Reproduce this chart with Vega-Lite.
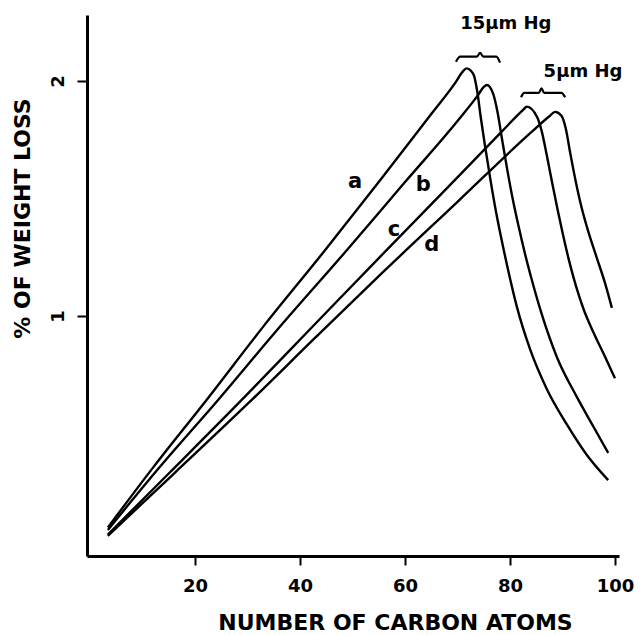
{
  "$schema": "https://vega.github.io/schema/vega-lite/v6.json",
  "width": 532,
  "height": 541,
  "autosize": {"type": "none"},
  "padding": {"left": 87, "top": 15, "right": 22, "bottom": 79},
  "background": "white",
  "config": {
    "view": {"stroke": null},
    "font": "DejaVu Sans",
    "axis": {"grid": false, "domainColor": "black", "domainWidth": 3, "tickColor": "black", "tickWidth": 2, "labelColor": "black", "titleColor": "black", "labelFont": "DejaVu Sans", "titleFont": "DejaVu Sans", "labelFontWeight": "bold", "titleFontWeight": "bold"}
  },
  "datasets": {
    "curves": [
      {"series": "a", "o": 1, "x": 3.4, "y": 0.10}, {"series": "a", "o": 2, "x": 12, "y": 0.355}, {"series": "a", "o": 3, "x": 22.2, "y": 0.643}, {"series": "a", "o": 4, "x": 33, "y": 0.955}, {"series": "a", "o": 5, "x": 44.8, "y": 1.281}, {"series": "a", "o": 6, "x": 55, "y": 1.57}, {"series": "a", "o": 7, "x": 65, "y": 1.86}, {"series": "a", "o": 8, "x": 69.5, "y": 1.99}, {"series": "a", "o": 9, "x": 71.0, "y": 2.04}, {"series": "a", "o": 10, "x": 71.7, "y": 2.054}, {"series": "a", "o": 11, "x": 73.0, "y": 2.03}, {"series": "a", "o": 12, "x": 73.8, "y": 1.95}, {"series": "a", "o": 13, "x": 74.4, "y": 1.85}, {"series": "a", "o": 14, "x": 75.2, "y": 1.73}, {"series": "a", "o": 15, "x": 76.2, "y": 1.59}, {"series": "a", "o": 16, "x": 77.2, "y": 1.46}, {"series": "a", "o": 17, "x": 78.3, "y": 1.335}, {"series": "a", "o": 18, "x": 79.5, "y": 1.21}, {"series": "a", "o": 19, "x": 81.3, "y": 1.04}, {"series": "a", "o": 20, "x": 83.8, "y": 0.86}, {"series": "a", "o": 21, "x": 87.0, "y": 0.69}, {"series": "a", "o": 22, "x": 90.8, "y": 0.54}, {"series": "a", "o": 23, "x": 94.6, "y": 0.41}, {"series": "a", "o": 24, "x": 98.7, "y": 0.302},
      {"series": "b", "o": 1, "x": 3.4, "y": 0.09}, {"series": "b", "o": 2, "x": 13, "y": 0.35}, {"series": "b", "o": 3, "x": 24.4, "y": 0.643}, {"series": "b", "o": 4, "x": 36, "y": 0.95}, {"series": "b", "o": 5, "x": 48.95, "y": 1.281}, {"series": "b", "o": 6, "x": 60, "y": 1.57}, {"series": "b", "o": 7, "x": 70, "y": 1.83}, {"series": "b", "o": 8, "x": 73.9, "y": 1.94}, {"series": "b", "o": 9, "x": 75.0, "y": 1.975}, {"series": "b", "o": 10, "x": 75.6, "y": 1.983}, {"series": "b", "o": 11, "x": 76.8, "y": 1.945}, {"series": "b", "o": 12, "x": 77.6, "y": 1.87}, {"series": "b", "o": 13, "x": 78.5, "y": 1.75}, {"series": "b", "o": 14, "x": 79.5, "y": 1.62}, {"series": "b", "o": 15, "x": 80.5, "y": 1.50}, {"series": "b", "o": 16, "x": 81.6, "y": 1.385}, {"series": "b", "o": 17, "x": 82.8, "y": 1.27}, {"series": "b", "o": 18, "x": 84.2, "y": 1.15}, {"series": "b", "o": 19, "x": 86.0, "y": 1.011}, {"series": "b", "o": 20, "x": 88.9, "y": 0.827}, {"series": "b", "o": 21, "x": 92.7, "y": 0.657}, {"series": "b", "o": 22, "x": 95.9, "y": 0.529}, {"series": "b", "o": 23, "x": 98.7, "y": 0.418},
      {"series": "c", "o": 1, "x": 3.4, "y": 0.07}, {"series": "c", "o": 2, "x": 15, "y": 0.33}, {"series": "c", "o": 3, "x": 28.9, "y": 0.643}, {"series": "c", "o": 4, "x": 42, "y": 0.946}, {"series": "c", "o": 5, "x": 55.2, "y": 1.251}, {"series": "c", "o": 6, "x": 68, "y": 1.544}, {"series": "c", "o": 7, "x": 78, "y": 1.775}, {"series": "c", "o": 8, "x": 82.5, "y": 1.877}, {"series": "c", "o": 9, "x": 83.2, "y": 1.891}, {"series": "c", "o": 10, "x": 85.2, "y": 1.845}, {"series": "c", "o": 11, "x": 86.0, "y": 1.79}, {"series": "c", "o": 12, "x": 87.0, "y": 1.685}, {"series": "c", "o": 13, "x": 88.0, "y": 1.57}, {"series": "c", "o": 14, "x": 89.0, "y": 1.46}, {"series": "c", "o": 15, "x": 90.0, "y": 1.355}, {"series": "c", "o": 16, "x": 91.2, "y": 1.24}, {"series": "c", "o": 17, "x": 92.6, "y": 1.125}, {"series": "c", "o": 18, "x": 94.0, "y": 1.03}, {"series": "c", "o": 19, "x": 95.9, "y": 0.93}, {"series": "c", "o": 20, "x": 98.1, "y": 0.827}, {"series": "c", "o": 21, "x": 100.0, "y": 0.735},
      {"series": "d", "o": 1, "x": 3.4, "y": 0.065}, {"series": "d", "o": 2, "x": 16, "y": 0.33}, {"series": "d", "o": 3, "x": 30.8, "y": 0.643}, {"series": "d", "o": 4, "x": 43, "y": 0.91}, {"series": "d", "o": 5, "x": 55.2, "y": 1.174}, {"series": "d", "o": 6, "x": 70, "y": 1.486}, {"series": "d", "o": 7, "x": 83.8, "y": 1.777}, {"series": "d", "o": 8, "x": 87.5, "y": 1.85}, {"series": "d", "o": 9, "x": 88.6, "y": 1.869}, {"series": "d", "o": 10, "x": 89.8, "y": 1.852}, {"series": "d", "o": 11, "x": 90.6, "y": 1.80}, {"series": "d", "o": 12, "x": 91.5, "y": 1.69}, {"series": "d", "o": 13, "x": 92.5, "y": 1.575}, {"series": "d", "o": 14, "x": 93.6, "y": 1.465}, {"series": "d", "o": 15, "x": 94.9, "y": 1.36}, {"series": "d", "o": 16, "x": 96.5, "y": 1.25}, {"series": "d", "o": 17, "x": 98.1, "y": 1.14}, {"series": "d", "o": 18, "x": 99.4, "y": 1.035}
    ],
    "braces": [
      {"brace": "15", "o": 1, "x": 69.7, "y": 2.082}, {"brace": "15", "o": 2, "x": 70.5, "y": 2.104}, {"brace": "15", "o": 3, "x": 73.7, "y": 2.104}, {"brace": "15", "o": 4, "x": 74.3, "y": 2.12}, {"brace": "15", "o": 5, "x": 74.9, "y": 2.104}, {"brace": "15", "o": 6, "x": 77.4, "y": 2.104}, {"brace": "15", "o": 7, "x": 78.1, "y": 2.078},
      {"brace": "5", "o": 1, "x": 82.1, "y": 1.931}, {"brace": "5", "o": 2, "x": 82.7, "y": 1.950}, {"brace": "5", "o": 3, "x": 85.5, "y": 1.950}, {"brace": "5", "o": 4, "x": 86.0, "y": 1.969}, {"brace": "5", "o": 5, "x": 86.5, "y": 1.950}, {"brace": "5", "o": 6, "x": 89.8, "y": 1.950}, {"brace": "5", "o": 7, "x": 90.5, "y": 1.931}
    ],
    "labels": [
      {"text": "a", "x": 50.5, "y": 1.571, "size": 21},
      {"text": "b", "x": 63.5, "y": 1.557, "size": 21},
      {"text": "c", "x": 57.9, "y": 1.366, "size": 21},
      {"text": "d", "x": 65.1, "y": 1.302, "size": 21},
      {"text": "15μm Hg", "x": 79.2, "y": 2.243, "size": 18},
      {"text": "5μm Hg", "x": 93.9, "y": 2.04, "size": 18}
    ]
  },
  "layer": [
    {
      "data": {"name": "curves"},
      "mark": {"type": "line", "color": "black", "strokeWidth": 2.4, "clip": false, "interpolate": "monotone"},
      "encoding": {
        "x": {"field": "x", "type": "quantitative", "scale": {"domain": [-0.57, 100.76], "nice": false, "zero": false},
          "axis": {"values": [20, 40, 60, 80, 100], "title": "NUMBER OF CARBON ATOMS", "titleFontSize": 22, "labelFontSize": 18, "tickSize": 9, "labelPadding": 12, "titleX": 308, "titleY": 73, "titleBaseline": "alphabetic", "titleAnchor": null, "titleAlign": "center"}},
        "y": {"field": "y", "type": "quantitative", "scale": {"domain": [-0.021, 2.281], "nice": false, "zero": false},
          "axis": {"values": [1, 2], "format": "d", "title": "% OF WEIGHT LOSS", "titleFontSize": 22, "labelFontSize": 18, "tickSize": 10, "labelPadding": 19, "labelAngle": -90, "labelAlign": "center", "labelBaseline": "middle", "titleX": -65, "titleY": 203, "titleAngle": -90, "titleAlign": "center", "titleBaseline": "middle"}},
        "detail": {"field": "series"},
        "order": {"field": "o"}
      }
    },
    {
      "data": {"name": "braces"},
      "mark": {"type": "line", "color": "black", "strokeWidth": 2.2, "clip": false, "interpolate": "monotone"},
      "encoding": {
        "x": {"field": "x", "type": "quantitative"},
        "y": {"field": "y", "type": "quantitative"},
        "detail": {"field": "brace"},
        "order": {"field": "o"}
      }
    },
    {
      "data": {"name": "labels"},
      "mark": {"type": "text", "color": "black", "fontWeight": "bold", "font": "DejaVu Sans", "align": "center", "baseline": "middle"},
      "encoding": {
        "x": {"field": "x", "type": "quantitative"},
        "y": {"field": "y", "type": "quantitative"},
        "text": {"field": "text"},
        "size": {"field": "size", "type": "quantitative", "scale": null}
      }
    }
  ]
}
